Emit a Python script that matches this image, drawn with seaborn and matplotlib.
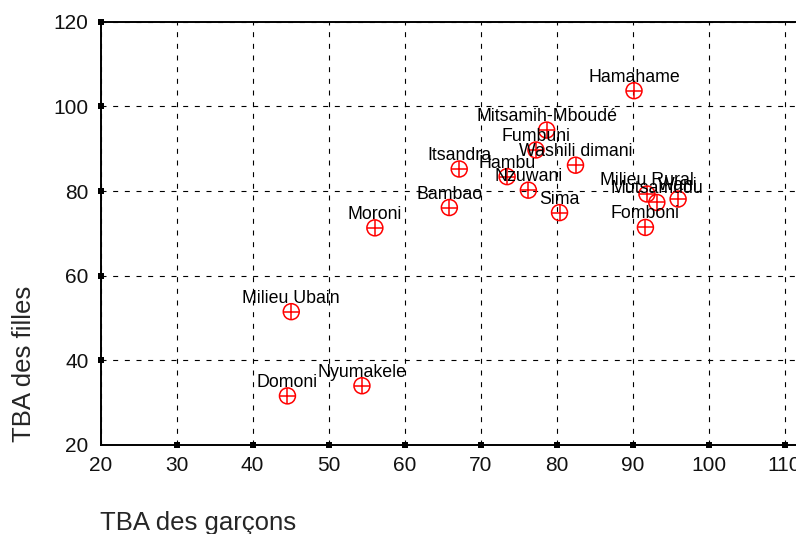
import matplotlib
matplotlib.use("Agg")
import matplotlib.pyplot as plt
import seaborn as sns
import pandas as pd

# ---- data ----
regions = ["Hamahame", "Mitsamih-Mboudé", "Fumbuni", "Washili dimani", "Itsandra",
           "Hambu", "Nzuwani", "Bambao", "Sima", "Milieu Rural", "Mutsamudu",
           "Wani", "Fomboni", "Moroni", "Milieu Ubain", "Domoni", "Nyumakele"]
tba_garcons = [90.2, 78.7, 77.3, 82.5, 67.2, 73.5, 76.3, 65.9, 80.4, 91.9, 93.2,
               96.0, 91.7, 56.1, 45.1, 44.6, 54.4]
tba_filles = [103.7, 94.4, 89.7, 86.1, 85.2, 83.4, 80.2, 76.1, 74.9, 79.3, 77.3,
              78.1, 71.4, 71.3, 51.5, 31.6, 34.0]
x_ticks = [20, 30, 40, 50, 60, 70, 80, 90, 100, 110]
y_ticks = [20, 40, 60, 80, 100, 120]
x_label = "TBA des garçons"
y_label = "TBA des filles"

sns.set_style("white")
plt.rcParams["font.family"] = ["Liberation Sans", "DejaVu Sans"]

W, H = 796, 534
fig = plt.figure(figsize=(W / 100, H / 100), dpi=100)
left_px, bottom_px, top_px = 100.5, 445.0, 21.7
px_per_unit = 7.6
ax_w_px = 716
ax = fig.add_axes([left_px / W, (H - bottom_px) / H, ax_w_px / W, (bottom_px - top_px) / H])

df = pd.DataFrame({"region": regions, "g": tba_garcons, "f": tba_filles})

sns.scatterplot(data=df, x="g", y="f", ax=ax, marker="o", s=132,
                color="red", facecolor="none", edgecolor="red", linewidth=1.1,
                zorder=3, legend=False)
ax.collections[-1].set_facecolor("none")
ax.collections[-1].set_edgecolor("red")
sns.scatterplot(data=df, x="g", y="f", ax=ax, marker="+", s=132,
                color="red", linewidth=1.1, zorder=3, legend=False)

for name, xv, yv in zip(df["region"], df["g"], df["f"]):
    ax.annotate(name, (xv, yv), xytext=(0, 6.5), textcoords="offset points",
                ha="center", va="baseline", fontsize=12.8, color="black", zorder=4)

ax.set_xlim(20, 20 + ax_w_px / px_per_unit)
ax.set_ylim(20, 120)
ax.set_xticks(x_ticks)
ax.set_yticks(y_ticks)
ax.set_xticklabels([str(t) for t in x_ticks])
ax.set_yticklabels([str(t) for t in y_ticks])
ax.set_xlabel("")
ax.set_ylabel("")

ax.set_axisbelow(True)
ax.grid(True, color="black", linestyle=(0, (4.5, 6)), linewidth=0.8)

for side in ["left", "bottom", "top"]:
    ax.spines[side].set_visible(True)
    ax.spines[side].set_color("black")
    ax.spines[side].set_linewidth(1.4)
ax.spines["right"].set_visible(False)

ax.tick_params(axis="both", which="major", direction="inout", length=4.3, width=4.3,
               color="black", labelsize=15, labelcolor="#111111")
ax.tick_params(axis="y", pad=6.5, left=True, right=False)
ax.tick_params(axis="x", pad=5.8, bottom=True, top=False)
ax.xaxis.get_major_ticks()[0].tick1line.set_visible(False)
ax.yaxis.get_major_ticks()[0].tick1line.set_visible(False)

fig.text(left_px / W, (H - 530) / H, x_label, fontsize=18.5, ha="left", va="baseline")
fig.text(24 / W, 1 - 363.5 / H, y_label, fontsize=18.5, rotation=90,
         ha="center", va="center")

fig.savefig("out.png", dpi=100, facecolor="white")
